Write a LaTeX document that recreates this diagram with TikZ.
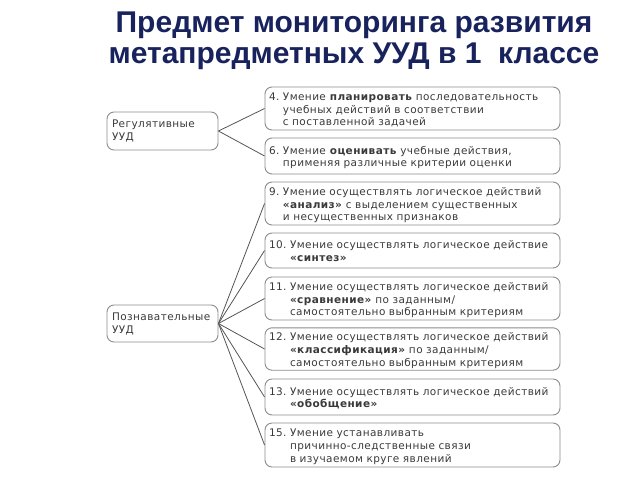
\documentclass[tikz,border=0pt]{standalone}
\usepackage{fontspec}
\setmainfont{DejaVu Sans}[LetterSpace=4]
\newfontfamily\headfont{Liberation Sans}
\definecolor{headblue}{RGB}{24,34,92}
\definecolor{txtgray}{RGB}{58,58,58}
\definecolor{framegray}{RGB}{140,140,140}
\definecolor{linkgray}{RGB}{85,85,85}
% numbered item with hanging lines, set a little low in its box
\newcommand\skilltext[2]{\raisebox{-2pt}[\height][\depth]{\begin{tabular}{@{}l@{\ }l@{}}#1 & #2\end{tabular}}}
\begin{document}
\begin{tikzpicture}[x=1pt,y=-1pt,
    uud/.style={rectangle,draw=framegray,line width=0.9pt,rounded corners=7pt,
        text=txtgray,font=\fontsize{10.5}{13}\selectfont,align=left,
        text width=101pt,inner xsep=5pt,inner ysep=2pt,minimum height=38pt},
    skill/.style={rectangle,draw=framegray,line width=0.9pt,rounded corners=7pt,
        text=txtgray,font=\fontsize{10.5}{12.8}\selectfont,align=left,
        text width=287pt,inner xsep=4pt,inner ysep=2pt},
    link/.style={draw=linkgray,line width=0.8pt}]
        \useasboundingbox (0,0) rectangle (640,480);

        % title
        \draw (354,40.5) node (title) [align=center,text=headblue,font=\headfont\bfseries\fontsize{30}{31}\selectfont] {Предмет мониторинга развития\\метапредметных УУД в 1\ \ классе};

        % left column
        \draw (162.5,131) node (reg) [uud] {Регулятивные\\УУД};
        \draw (162.5,323.5) node (poz) [uud,minimum height=37pt] {Познавательные\\УУД};

        % right column
        \draw (412.5,108.5) node (s4) [skill,minimum height=43pt] {\skilltext{4.}{Умение \textbf{планировать} последовательность\\ & учебных действий в соответствии\\ & с поставленной задачей}};
        \draw (412.5,156) node (s6) [skill,minimum height=36pt] {\skilltext{6.}{Умение \textbf{оценивать} учебные действия,\\ & применяя различные критерии оценки}};
        \draw (412.5,203.5) node (s9) [skill,minimum height=43pt] {\skilltext{9.}{Умение осуществлять логическое действий\\ & \textbf{«анализ»} с выделением существенных\\ & и несущественных признаков}};
        \draw (412.5,250.5) node (s10) [skill,minimum height=35pt] {\skilltext{10.}{Умение осуществлять логическое действие\\ & \textbf{«синтез»}}};
        \draw (412.5,298.5) node (s11) [skill,minimum height=43pt] {\skilltext{11.}{Умение осуществлять логическое действий\\ & \textbf{«сравнение»} по заданным/\\ & самостоятельно выбранным критериям}};
        \draw (412.5,349) node (s12) [skill,minimum height=42pt] {\skilltext{12.}{Умение осуществлять логическое действий\\ & \textbf{«классификация»} по заданным/\\ & самостоятельно выбранным критериям}};
        \draw (412.5,397) node (s13) [skill,minimum height=36pt] {\skilltext{13.}{Умение осуществлять логическое действий\\ & \textbf{«обобщение»}}};
        \draw (412.5,445) node (s15) [skill,minimum height=44pt] {\skilltext{15.}{Умение устанавливать\\ & причинно-следственные связи\\ & в изучаемом круге явлений}};

        % connectors
        \draw [link] (reg.east) -- (s4.west);
        \draw [link] (reg.east) -- (s6.west);
        \foreach \s in {s9,s10,s11,s12,s13,s15}
            \draw [link] (poz.east) -- (\s.west);
    \end{tikzpicture}
\end{document}
